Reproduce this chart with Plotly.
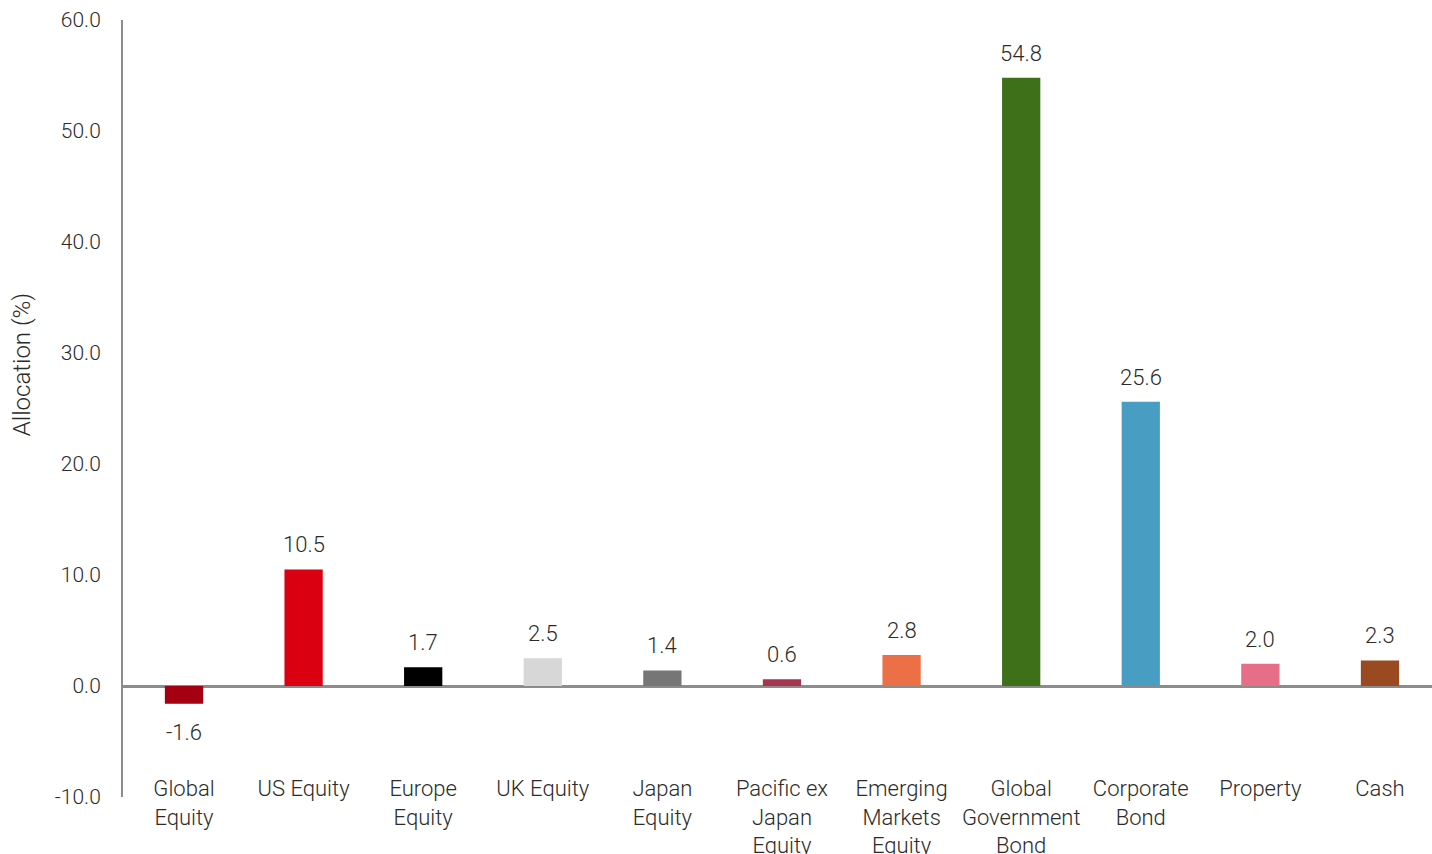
import plotly.graph_objects as go

categories = ["Global<br>Equity", "US Equity", "Europe<br>Equity", "UK Equity", "Japan<br>Equity",
              "Pacific ex<br>Japan<br>Equity", "Emerging<br>Markets<br>Equity", "Global<br>Government<br>Bond",
              "Corporate<br>Bond", "Property", "Cash"]
values = [-1.6, 10.5, 1.7, 2.5, 1.4, 0.6, 2.8, 54.8, 25.6, 2.0, 2.3]
colors = ["#A50011", "#DB0011", "#000000", "#D7D7D7", "#767676", "#A8344F",
          "#EC7046", "#3E701A", "#489EC2", "#E76E87", "#9A4A21"]
y_ticks = [-10, 0, 10, 20, 30, 40, 50, 60]

FONT = "Roboto"
TXT = "#2b2b2b"

fig = go.Figure(go.Bar(
    x=categories, y=values, marker=dict(color=colors, line=dict(width=0)),
    cliponaxis=False,
))

for c, v in zip(categories, values):
    fig.add_annotation(
        x=c, y=v, xref="x", yref="y", text=f"{v:.1f}", showarrow=False,
        yanchor="bottom" if v >= 0 else "top", yshift=10 if v >= 0 else -14,
        font=dict(family=FONT, size=22, color=TXT, weight=300),
    )

fig.add_annotation(
    x=-0.077, y=0.556, xref="paper", yref="paper", text="Allocation (%)", textangle=-90,
    showarrow=False, xanchor="center", yanchor="middle",
    font=dict(family=FONT, size=24, color=TXT, weight=300),
)

fig.update_layout(
    width=1432, height=854,
    margin=dict(l=123, r=0, t=20, b=57),
    paper_bgcolor="white", plot_bgcolor="white",
    bargap=0.68, showlegend=False,
    font=dict(family=FONT, size=22, color=TXT, weight=300),
)
fig.update_xaxes(
    range=[-0.51, 10.435], automargin=False,
    showgrid=False, showline=False, ticks="", zeroline=False,
    tickfont=dict(family=FONT, size=22, color=TXT, weight=300),
    ticklabelstandoff=-24,
)
fig.update_yaxes(
    range=[-10, 60], tickvals=y_ticks, ticktext=[f"{t:.1f}" for t in y_ticks],
    automargin=False,
    showgrid=False, showline=True, linecolor="#8c8c8c", linewidth=2,
    zeroline=True, zerolinecolor="#8c8c8c", zerolinewidth=2.5,
    ticks="", ticklabelstandoff=16,
    tickfont=dict(family=FONT, size=21, color=TXT, weight=300),
)

fig.write_html("out.html")
